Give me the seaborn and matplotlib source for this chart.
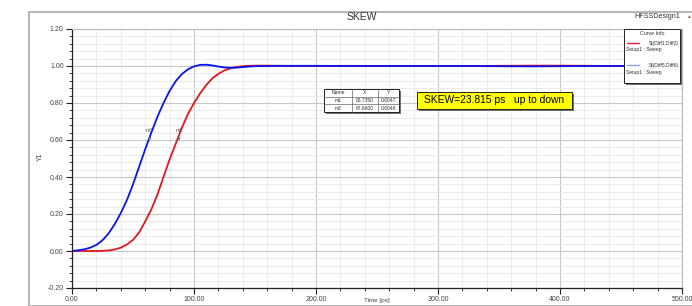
import pandas as pd
import matplotlib.pyplot as plt
import seaborn as sns
from matplotlib.patches import Rectangle
from matplotlib.lines import Line2D
from matplotlib.ticker import MultipleLocator, FormatStrFormatter

# Data
time_ps = [0, 5, 10, 15, 20, 25, 30, 35, 40, 45, 50, 55, 60, 65, 70, 75, 80, 85, 90, 95,
           100, 105, 110, 115, 120, 125, 130, 135, 140, 145, 150, 160, 170, 180, 190, 200,
           225, 250, 275, 300, 325, 350, 375, 400, 425, 450, 475, 500]
diff12 = [0.0, 0.0, 0.0, 0.0, 0.0, 0.001, 0.003, 0.008, 0.018, 0.035, 0.06, 0.1, 0.16, 0.225,
          0.305, 0.4, 0.495, 0.58, 0.665, 0.74, 0.8, 0.852, 0.897, 0.933, 0.958, 0.976, 0.988,
          0.995, 0.999, 1.001, 1.002, 1.002, 1.001, 1.0, 1.0, 1.0, 1.001, 1.0, 1.0, 1.0, 1.0,
          1.001, 1.002, 1.002, 1.001, 1.0, 1.0, 1.0]
diff56 = [0.0, 0.004, 0.009, 0.018, 0.033, 0.058, 0.095, 0.145, 0.205, 0.275, 0.36, 0.455,
          0.55, 0.64, 0.725, 0.8, 0.865, 0.918, 0.956, 0.982, 0.998, 1.006, 1.007, 1.003, 0.997,
          0.992, 0.99, 0.991, 0.994, 0.997, 0.999, 1.0, 1.001, 1.001, 1.001, 1.001, 1.0, 1.0,
          1.0, 1.0, 1.0, 0.999, 0.998, 0.999, 1.0, 1.0, 1.0, 1.0]
curve_names = ["St(Diff1,Diff2)", "St(Diff5,Diff6)"]
curve_colors = ["#e8141c", "#0a14f0"]
marker_names = ["m1", "m2"]
marker_x = [63.7350, 87.6600]
marker_y = [0.6047, 0.6046]
skew_label = "SKEW=23.815 ps   up to down"

df = pd.DataFrame({
    "Time": time_ps * 2,
    "Y1": diff12 + diff56,
    "Curve": [curve_names[0]] * len(time_ps) + [curve_names[1]] * len(time_ps),
})

W, H = 692, 306


def px(x, y):
    # pixel position -> figure fraction
    return x / W, 1 - y / H


sns.set_theme(style="white")
plt.rcParams['font.family'] = ['Liberation Sans', 'DejaVu Sans']

fig = plt.figure(figsize=(6.92, 3.06), dpi=100)
ax = fig.add_axes([72 / W, 1 - 288 / H, (682 - 72) / W, (288 - 29) / H])

sns.lineplot(data=df, x="Time", y="Y1", hue="Curve", palette=curve_colors,
             linewidth=1.3, legend=False, ax=ax, sort=False)

# marker points m1, m2
sns.scatterplot(x=marker_x, y=marker_y, marker='v', s=7, color='#777777',
                edgecolor='none', ax=ax, zorder=5)
for name, mx, my in zip(marker_names, marker_x, marker_y):
    ax.text(mx, my + 0.035, name, fontsize=4, ha='center', va='bottom', color='#555555')

ax.set_xlim(0, 500)
ax.set_ylim(-0.2, 1.2)
ax.xaxis.set_major_locator(MultipleLocator(100))
ax.xaxis.set_minor_locator(MultipleLocator(20))
ax.yaxis.set_major_locator(MultipleLocator(0.2))
ax.yaxis.set_minor_locator(MultipleLocator(0.04))
ax.xaxis.set_major_formatter(FormatStrFormatter('%.2f'))
ax.yaxis.set_major_formatter(FormatStrFormatter('%.2f'))
ax.set_xlabel("")
ax.set_ylabel("")

ax.set_axisbelow(True)
ax.grid(which='minor', color='#e8e8e8', linewidth=0.6)
ax.grid(which='major', color='#c8c8c8', linewidth=0.8)

for side in ['top', 'right']:
    ax.spines[side].set_color('#b8b8b8')
    ax.spines[side].set_linewidth(0.8)
for side in ['left', 'bottom']:
    ax.spines[side].set_color('#222222')
    ax.spines[side].set_linewidth(0.9)

ax.tick_params(which='both', bottom=True, left=True, direction='out', color='#222222')
ax.tick_params(which='major', length=4, width=0.8, labelsize=5, labelcolor='#444444', pad=2)
ax.tick_params(which='minor', length=2.5, width=0.6)

fig.text(*px(377, 300.5), "Time [ps]", ha='center', va='center', fontsize=4.5, color='#444444')
fig.text(*px(40, 157), "Y1", ha='center', va='center', rotation=90, fontsize=5,
         color='#444444')

# outer gray frame
fig.add_artist(Rectangle(px(29, 306), 1, (306 - 12) / H, transform=fig.transFigure,
                         fill=False, edgecolor='#b5b5b5', linewidth=1.4))

fig.text(*px(362, 17), "SKEW", ha='center', va='center', fontsize=7.5, color='#333333')
fig.text(*px(657, 17), "HFSSDesign1", ha='center', va='center', fontsize=5.2, color='#333333')
fig.text(*px(688, 16), "\u25b2", ha='center', va='center', fontsize=3.5, color='#d04848')


def box(x0, y0, x1, y1, face, shadow=2):
    fig.add_artist(Rectangle(px(x0 + shadow, y1 + shadow), (x1 - x0) / W, (y1 - y0) / H,
                             transform=fig.transFigure, facecolor='#707070',
                             edgecolor='none', zorder=3))
    fig.add_artist(Rectangle(px(x0, y1), (x1 - x0) / W, (y1 - y0) / H,
                             transform=fig.transFigure, facecolor=face,
                             edgecolor='#222222', linewidth=0.7, zorder=4))


# marker table
col_edges = [324, 352, 378, 399]
row_edges = [89, 96.5, 104, 112]
box(col_edges[0], row_edges[0], col_edges[-1], row_edges[-1], 'white', shadow=1.5)
for cx in col_edges[1:-1]:
    fig.add_artist(Line2D([cx / W, cx / W], [1 - row_edges[0] / H, 1 - row_edges[-1] / H],
                          transform=fig.transFigure, color='#666666', linewidth=0.5, zorder=5))
for ry in row_edges[1:-1]:
    fig.add_artist(Line2D([col_edges[0] / W, col_edges[-1] / W], [1 - ry / H, 1 - ry / H],
                          transform=fig.transFigure, color='#666666', linewidth=0.5, zorder=5))
table_rows = [["Name", "X", "Y"]] + [[n, f"{x:.4f}", f"{y:.4f}"]
                                      for n, x, y in zip(marker_names, marker_x, marker_y)]
for r, row in enumerate(table_rows):
    cy = (row_edges[r] + row_edges[r + 1]) / 2
    for c, val in enumerate(row):
        cx = (col_edges[c] + col_edges[c + 1]) / 2
        fig.text(*px(cx, cy), val, ha='center', va='center', fontsize=3.6,
                 color='#333333', zorder=6)

# skew annotation
box(417, 92, 572, 109, '#ffff00', shadow=2)
fig.text(*px(494.5, 100.5), skew_label, ha='center', va='center', fontsize=7.4,
         color='black', zorder=6)

# curve info box
box(624, 29, 680, 83, 'white', shadow=1.5)
fig.text(*px(652, 33.5), "Curve Info", ha='center', va='center', fontsize=3.8,
         color='#333333', zorder=6)
legend_colors = ["#ee2030", "#8c9cf0"]
for i, (name, col) in enumerate(zip(curve_names, legend_colors)):
    ly = 43 + i * 22
    fig.add_artist(Line2D([627 / W, 639 / W], [1 - ly / H, 1 - ly / H],
                          transform=fig.transFigure, color=col, linewidth=1.0, zorder=6))
    fig.text(*px(679, ly), name, ha='right', va='center', fontsize=3.6,
             color='#333333', zorder=6)
    fig.text(*px(626, ly + 7), "Setup1 : Sweep", ha='left', va='center', fontsize=3.6,
             color='#333333', zorder=6)

fig.savefig("out.png", dpi=100)
